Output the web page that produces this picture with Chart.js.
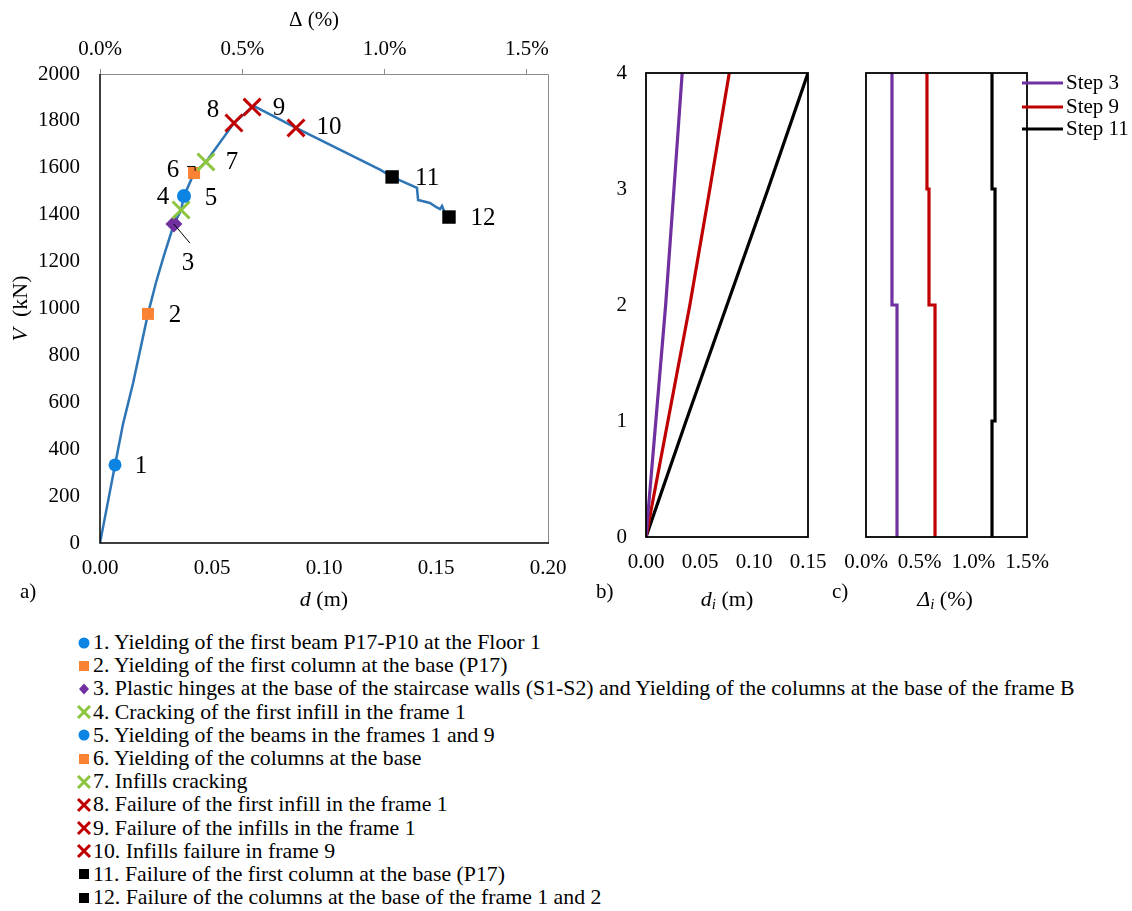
<!DOCTYPE html>
<html><head><meta charset="utf-8">
<script src="https://cdn.jsdelivr.net/npm/chart.js@4/dist/chart.umd.min.js"></script>
<style>
body{margin:0;background:#fff;width:1132px;height:911px;position:relative;overflow:hidden;font-family:"Liberation Serif","Times New Roman",serif;color:#000}
canvas{position:absolute}
#legend{position:absolute;left:74px;top:631px;font-size:21.8px}
.it{display:flex;align-items:center;white-space:nowrap;height:23.2px}
.mk{width:19px;height:18px;display:inline-flex;justify-content:center;align-items:center}
</style></head><body>
<canvas id="ca" width="600" height="620" style="left:0;top:0"></canvas>
<canvas id="cb" width="250" height="620" style="left:590px;top:0"></canvas>
<canvas id="cc" width="302" height="620" style="left:830px;top:0"></canvas>
<div id="legend"></div>
<script>
// ---------- data ----------
const curveD = [0,0.0067,0.0103,0.0147,0.0214,0.0250,0.0286,0.0330,0.0362,0.0375,0.0420,0.0473,0.0598,0.0679,0.0690,0.0875,0.1250,0.1304,0.1415,0.1420,0.1473,0.1500,0.1518,0.1527,0.1536,0.1558];
const curveV = [0,333,508,679,977,1111,1228,1360,1420,1480,1578,1625,1791,1859,1862,1770,1592,1561,1514,1463,1450,1433,1424,1437,1416,1390];
const eventLabels = ['1','2','3','4','5','6','7','8','9','10','11','12'];
const eventD = [0.0067,0.0214,0.0330,0.0362,0.0375,0.0420,0.0473,0.0598,0.0679,0.0875,0.1304,0.1558];
const eventV = [333,977,1360,1420,1480,1578,1625,1791,1859,1770,1561,1390];
const eventText = [
 '1. Yielding of the first beam P17-P10 at the Floor 1',
 '2. Yielding of the first column at the base (P17)',
 '3. Plastic hinges at the base of the staircase walls (S1-S2) and Yielding of the columns at the base of the frame B',
 '4. Cracking of the first infill in the frame 1',
 '5. Yielding of the beams in the frames 1 and 9',
 '6. Yielding of the columns at the base',
 '7. Infills cracking',
 '8. Failure of the first infill in the frame 1',
 '9. Failure of the infills in the frame 1',
 '10. Infills failure in frame 9',
 '11. Failure of the first column at the base (P17)',
 '12. Failure of the columns at the base of the frame 1 and 2'
];
const xTicksA = [0,0.05,0.10,0.15,0.20];
const driftTicksA = [0,0.5,1.0,1.5];
const floors = [0,1,2,3,4];
const stepNames = ['Step 3','Step 9','Step 11'];
const dispStep3 = [0,0.0091,0.0182,0.0259,0.0335];
const dispStep9 = [0,0.0203,0.0406,0.0591,0.0771];
const dispStep11 = [0,0.0371,0.0750,0.1130,0.1500];
const driftStep3 = [0.289,0.289,0.242,0.242];
const driftStep9 = [0.643,0.643,0.587,0.568];
const driftStep11 = [1.174,1.202,1.202,1.174];

// ---------- styles ----------
const SERIF = '"Liberation Serif","Times New Roman",serif';
const tickFont = {family:SERIF,size:21};
const noGrid = {display:false,drawTicks:false};
const evStyle = [
 ['circle','#0B84E3',6.5],['rect','#F98332',8.5],['rectRot','#7030A0',8.5],['crossRot','#8CC63F',12],
 ['circle','#0B84E3',7],['rect','#F98332',8.5],['crossRot','#8CC63F',12],['crossRot','#C00000',12],
 ['crossRot','#C00000',12],['crossRot','#C00000',12],['rect','#000000',9.5],['rect','#000000',9.5]
];
const labelOff = [[26,2],[27,2],[14,39],[-18,-13],[27,2],[-21,-3],[26,0],[-21,-13],[27,1],[33,0],[35,1],[34,1]];
const stepColors = ['#7030A0','#C00000','#000000'];

function pts(xs, ys){ return xs.map((x,i)=>({x:x,y:ys[i]})); }
function stepPts(dr){ const p=[]; dr.forEach((d,i)=>{p.push({x:d,y:floors[i]});p.push({x:d,y:floors[i+1]});}); return p; }

function richText(ctx, parts, x, y, align){
  let w=0; parts.forEach(p=>{ctx.font=p[1]; w+=ctx.measureText(p[0]).width;});
  let cx = align==='center'? x-w/2 : x;
  ctx.textAlign='left'; ctx.textBaseline='middle';
  parts.forEach(p=>{ctx.font=p[1]; ctx.fillText(p[0],cx,y+(p[2]||0)); cx+=ctx.measureText(p[0]).width;});
}

// ---------- chart a ----------
const plugA = {
  id:'plugA',
  afterDraw(chart){
    const ctx=chart.ctx, a=chart.chartArea, sx=chart.scales.x, sy=chart.scales.y;
    ctx.save();
    ctx.strokeStyle='#8c8c8c'; ctx.lineWidth=1;
    ctx.beginPath(); ctx.moveTo(a.left,a.top+0.5); ctx.lineTo(a.right+0.5,a.top+0.5); ctx.lineTo(a.right+0.5,a.bottom); ctx.stroke();
    ctx.strokeStyle='#000'; ctx.lineWidth=1.5;
    ctx.beginPath(); ctx.moveTo(a.left,a.top); ctx.lineTo(a.left,a.bottom); ctx.lineTo(a.right+1,a.bottom); ctx.stroke();
    const p3x=sx.getPixelForValue(eventD[2]), p3y=sy.getPixelForValue(eventV[2]);
    ctx.lineWidth=1; ctx.beginPath(); ctx.moveTo(p3x,p3y); ctx.lineTo(p3x+16,p3y+19); ctx.stroke();
    const p6x=sx.getPixelForValue(eventD[5]), p6y=sy.getPixelForValue(eventV[5]);
    ctx.beginPath(); ctx.moveTo(p6x-7,p6y-6.5); ctx.lineTo(p6x+1,p6y-6.5); ctx.lineTo(p6x+1,p6y-2); ctx.stroke();
    ctx.fillStyle='#000'; ctx.font='25px '+SERIF; ctx.textAlign='center'; ctx.textBaseline='middle';
    eventLabels.forEach((t,i)=>{
      ctx.fillText(t, sx.getPixelForValue(eventD[i])+labelOff[i][0], sy.getPixelForValue(eventV[i])+labelOff[i][1]);
    });
    richText(ctx,[['\u0394 (%)','21px '+SERIF]],314,20,'center');
    richText(ctx,[['d','italic 22px '+SERIF],[' (m)','22px '+SERIF]],(a.left+a.right)/2,600,'center');
    richText(ctx,[['a)','21px '+SERIF]],20,592,'left');
    ctx.save(); ctx.translate(21,(a.top+a.bottom)/2); ctx.rotate(-Math.PI/2);
    richText(ctx,[['V','italic 22px '+SERIF],['  (kN)','22px '+SERIF]],0,0,'center');
    ctx.restore();
    ctx.restore();
  }
};
new Chart(document.getElementById('ca'),{
  type:'scatter',
  data:{datasets:[
    {data:pts(curveD,curveV),showLine:true,borderColor:'#2E75B6',borderWidth:2.5,pointRadius:0,tension:0,order:2},
    {data:pts(eventD,eventV),showLine:false,order:1,
     pointStyle:c=>evStyle[c.dataIndex][0],
     pointRadius:c=>evStyle[c.dataIndex][2],
     backgroundColor:c=>evStyle[c.dataIndex][0]==='crossRot'?'rgba(0,0,0,0)':evStyle[c.dataIndex][1],
     borderColor:c=>evStyle[c.dataIndex][1],
     borderWidth:c=>evStyle[c.dataIndex][0]==='crossRot'?3:0}
  ]},
  options:{
    responsive:false,animation:false,devicePixelRatio:1,events:[],
    layout:{padding:{left:0,right:52,top:0,bottom:0}},
    plugins:{legend:{display:false},tooltip:{enabled:false}},
    scales:{
      x:{type:'linear',position:'bottom',min:0,max:0.2,
         afterBuildTicks:s=>{s.ticks=xTicksA.map(v=>({value:v}));},
         ticks:{font:tickFont,color:'#000',padding:13,maxRotation:0,callback:v=>Number(v).toFixed(2)},
         grid:noGrid,border:{display:false},
         afterFit:s=>{s.height=77;}},
      x2:{type:'linear',position:'top',min:0,max:1.574,
         afterBuildTicks:s=>{s.ticks=driftTicksA.map(v=>({value:v}));},
         ticks:{font:tickFont,color:'#000',padding:7,maxRotation:0,callback:v=>Number(v).toFixed(1)+'%'},
         grid:{display:true,drawOnChartArea:false,drawTicks:true,tickLength:5,color:'#8c8c8c'},border:{display:false},
         afterFit:s=>{s.height=74;}},
      y:{min:0,max:2000,ticks:{stepSize:200,font:tickFont,color:'#000',padding:20,callback:v=>String(v)},
         grid:noGrid,border:{display:false},
         afterFit:s=>{s.width=100;}}
    }
  },
  plugins:[plugA]
});

// ---------- panels b, c ----------
const plugBox = (id, extra) => ({
  id:id,
  afterDraw(chart){
    const ctx=chart.ctx, a=chart.chartArea;
    ctx.save(); ctx.strokeStyle='#000'; ctx.lineWidth=1.8;
    ctx.strokeRect(a.left,a.top,a.right-a.left,a.bottom-a.top);
    ctx.fillStyle='#000';
    extra(ctx,a);
    ctx.restore();
  }
});
new Chart(document.getElementById('cb'),{
  type:'scatter',
  data:{datasets:[dispStep3,dispStep9,dispStep11].map((d,i)=>({
    label:stepNames[i],data:pts(d,floors),showLine:true,borderColor:stepColors[i],borderWidth:3.2,pointRadius:0,tension:0}))},
  options:{
    responsive:false,animation:false,devicePixelRatio:1,events:[],
    layout:{padding:{left:0,right:32,top:73,bottom:0}},
    plugins:{legend:{display:false},tooltip:{enabled:false}},
    scales:{
      x:{type:'linear',min:0,max:0.15,ticks:{stepSize:0.05,font:tickFont,color:'#000',padding:13,maxRotation:0,callback:v=>Number(v).toFixed(2)},
         grid:noGrid,border:{display:false},afterFit:s=>{s.height=83;}},
      y:{min:0,max:4,ticks:{stepSize:1,font:tickFont,color:'#000',padding:19},
         grid:noGrid,border:{display:false},afterFit:s=>{s.width=56;}}
    }
  },
  plugins:[plugBox('boxB',(ctx,a)=>{
    richText(ctx,[['d','italic 22px '+SERIF],['i','italic 15px '+SERIF,5],[' (m)','22px '+SERIF]],137,600,'center');
    richText(ctx,[['b)','21px '+SERIF]],6,592,'left');
  })]
});

new Chart(document.getElementById('cc'),{
  type:'scatter',
  data:{datasets:[driftStep3,driftStep9,driftStep11].map((d,i)=>({
    label:stepNames[i],data:stepPts(d),showLine:true,borderColor:stepColors[i],borderWidth:3.2,pointRadius:0,tension:0}))},
  options:{
    responsive:false,animation:false,devicePixelRatio:1,events:[],
    layout:{padding:{left:0,right:105,top:73,bottom:0}},
    plugins:{legend:{display:false},tooltip:{enabled:false}},
    scales:{
      x:{type:'linear',min:0,max:1.5,ticks:{stepSize:0.5,font:tickFont,color:'#000',padding:13,maxRotation:0,callback:v=>Number(v).toFixed(1)+'%'},
         grid:noGrid,border:{display:false},afterFit:s=>{s.height=83;}},
      y:{min:0,max:4,ticks:{display:false,stepSize:1},grid:noGrid,border:{display:false},afterFit:s=>{s.width=36;}}
    }
  },
  plugins:[plugBox('boxC',(ctx,a)=>{
    const ly=[83,107,129];
    stepNames.forEach((n,i)=>{
      ctx.strokeStyle=stepColors[i]; ctx.lineWidth=3.2;
      ctx.beginPath(); ctx.moveTo(192,ly[i]); ctx.lineTo(233,ly[i]); ctx.stroke();
      ctx.fillStyle='#000';
      richText(ctx,[[n,'21px '+SERIF]],236,ly[i],'left');
    });
    richText(ctx,[['\u0394','italic 22px '+SERIF],['i','italic 15px '+SERIF,5],[' (%)','22px '+SERIF]],115,600,'center');
    richText(ctx,[['c)','21px '+SERIF]],2,592,'left');
  })]
});

// ---------- bottom legend ----------
function markerSVG(st,col){
  if(st==='circle') return '<svg width="18" height="18"><circle cx="9" cy="9" r="5.5" fill="'+col+'"/></svg>';
  if(st==='rect') return '<svg width="18" height="18"><rect x="4" y="4" width="10" height="10" fill="'+col+'"/></svg>';
  if(st==='rectRot') return '<svg width="18" height="18"><polygon points="9,3.5 14,9 9,14.5 4,9" fill="'+col+'"/></svg>';
  return '<svg width="18" height="18"><path d="M3 3 L15 15 M15 3 L3 15" stroke="'+col+'" stroke-width="3"/></svg>';
}
const lg=document.getElementById('legend');
eventText.forEach((t,i)=>{
  const d=document.createElement('div'); d.className='it';
  d.innerHTML='<span class="mk">'+markerSVG(evStyle[i][0],evStyle[i][1])+'</span><span>'+t+'</span>';
  lg.appendChild(d);
});
</script>
</body></html>
